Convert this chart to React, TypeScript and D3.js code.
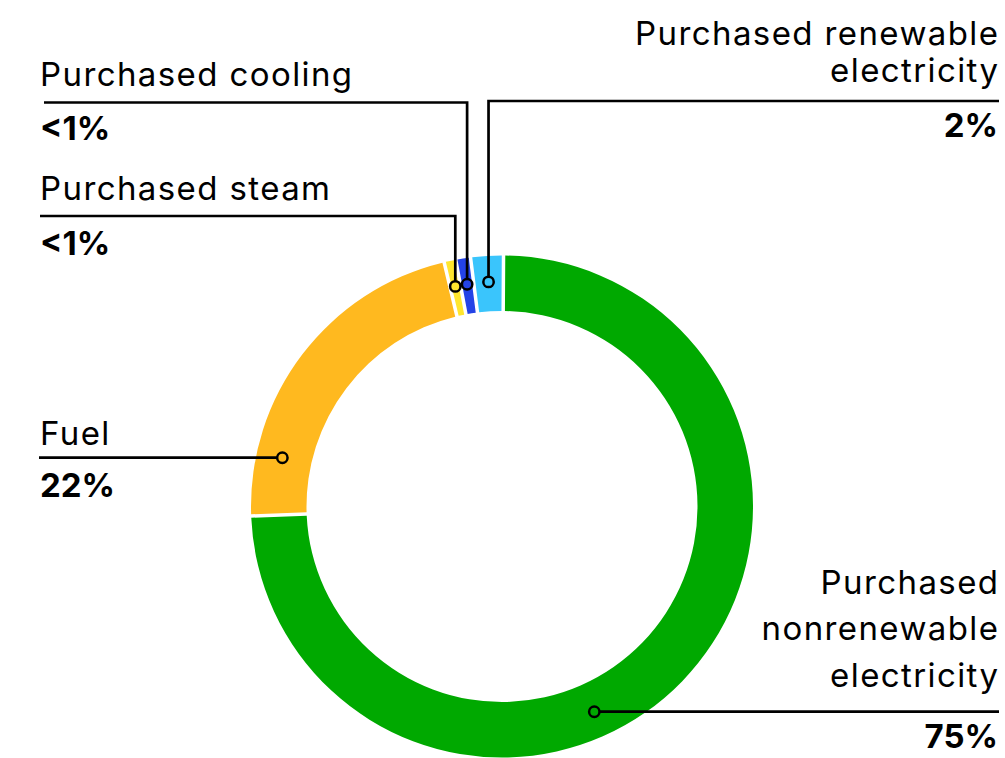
import React from "react";
import * as d3 from "d3";

// ---- Data ----
const categories = [
  "Purchased nonrenewable electricity",
  "Fuel",
  "Purchased steam",
  "Purchased cooling",
  "Purchased renewable electricity",
];
const values = [74.3, 21.9, 0.75, 0.95, 2.1];
const valueLabels = ["75%", "22%", "<1%", "<1%", "2%"];
const nameLines = [
  ["Purchased", "nonrenewable", "electricity"],
  ["Fuel"],
  ["Purchased steam"],
  ["Purchased cooling"],
  ["Purchased renewable", "electricity"],
];
const colors = ["#00A900", "#FFB91F", "#FFE62E", "#2443E6", "#3AC5FC"];

// ---- Layout ----
const W = 1005;
const H = 758;
const cx = 502;
const cy = 506.5;
const outerR = 251;
const innerR = 195.5;
const dotR = 225;
const FONT = "Inter, 'Noto Sans', sans-serif";
const FS = 33;
const LS = 1.4;

type Lay = {
  side: "left" | "right";
  lineY: number;
  lineEnd: number;
  baselines: number[];
  valueBaseline: number;
  mode: "horizontal" | "elbow";
};
const layout: Lay[] = [
  { side: "right", lineY: 711.7, lineEnd: 999, baselines: [594, 640, 687], valueBaseline: 748, mode: "horizontal" },
  { side: "left", lineY: 457.7, lineEnd: 39, baselines: [445], valueBaseline: 497, mode: "horizontal" },
  { side: "left", lineY: 216, lineEnd: 40, baselines: [200], valueBaseline: 255, mode: "elbow" },
  { side: "left", lineY: 102.5, lineEnd: 44, baselines: [86], valueBaseline: 140, mode: "elbow" },
  { side: "right", lineY: 101, lineEnd: 999, baselines: [45, 82], valueBaseline: 137, mode: "elbow" },
];

export default function App() {
  const start = 0.0061;
  const pie = d3
    .pie<number>()
    .sort(null)
    .startAngle(start)
    .endAngle(start + 2 * Math.PI);
  const arcs = pie(values);
  const gap = 3.5;
  const arc = d3
    .arc<d3.PieArcDatum<number>>()
    .innerRadius(innerR)
    .outerRadius(outerR)
    .padRadius(outerR)
    .padAngle(gap / outerR);

  return (
    <svg
      width={W}
      height={H}
      style={{ position: "absolute", left: 0, top: 0, background: "#fff" }}
    >
      <g transform={`translate(${cx},${cy})`}>
        {arcs.map((a, i) => (
          <path key={i} d={arc(a) || ""} fill={colors[i]} />
        ))}
      </g>
      {arcs.map((a, i) => {
        const L = layout[i];
        let dx: number, dy: number;
        let path: string;
        if (L.mode === "horizontal") {
          dy = L.lineY - cy;
          const h = Math.sqrt(dotR * dotR - dy * dy);
          dx = L.side === "left" ? -h : h;
          path = `M${cx + dx},${L.lineY}H${L.lineEnd}`;
        } else {
          const mid = (a.startAngle + a.endAngle) / 2;
          dx = dotR * Math.sin(mid);
          dy = -dotR * Math.cos(mid);
          path = `M${cx + dx},${cy + dy}V${L.lineY}H${L.lineEnd}`;
        }
        const anchor = L.side === "left" ? "start" : "end";
        const tx = L.side === "left" ? 40 : 998;
        return (
          <g key={categories[i]}>
            <path d={path} fill="none" stroke="#000" strokeWidth={2.7} />
            <circle
              cx={cx + dx}
              cy={cy + dy}
              r={5.2}
              fill={colors[i]}
              stroke="#000"
              strokeWidth={2.5}
            />
            {nameLines[i].map((t, j) => (
              <text
                key={j}
                x={L.side === "left" ? tx : tx + LS}
                y={L.baselines[j]}
                textAnchor={anchor}
                fontFamily={FONT}
                fontSize={FS}
                letterSpacing={LS}
                fill="#000"
              >
                {t}
              </text>
            ))}
            <text
              x={tx}
              y={L.valueBaseline}
              textAnchor={anchor}
              fontFamily={FONT}
              fontSize={33}
              fontWeight={700}
              fill="#000"
            >
              {valueLabels[i]}
            </text>
          </g>
        );
      })}
    </svg>
  );
}
